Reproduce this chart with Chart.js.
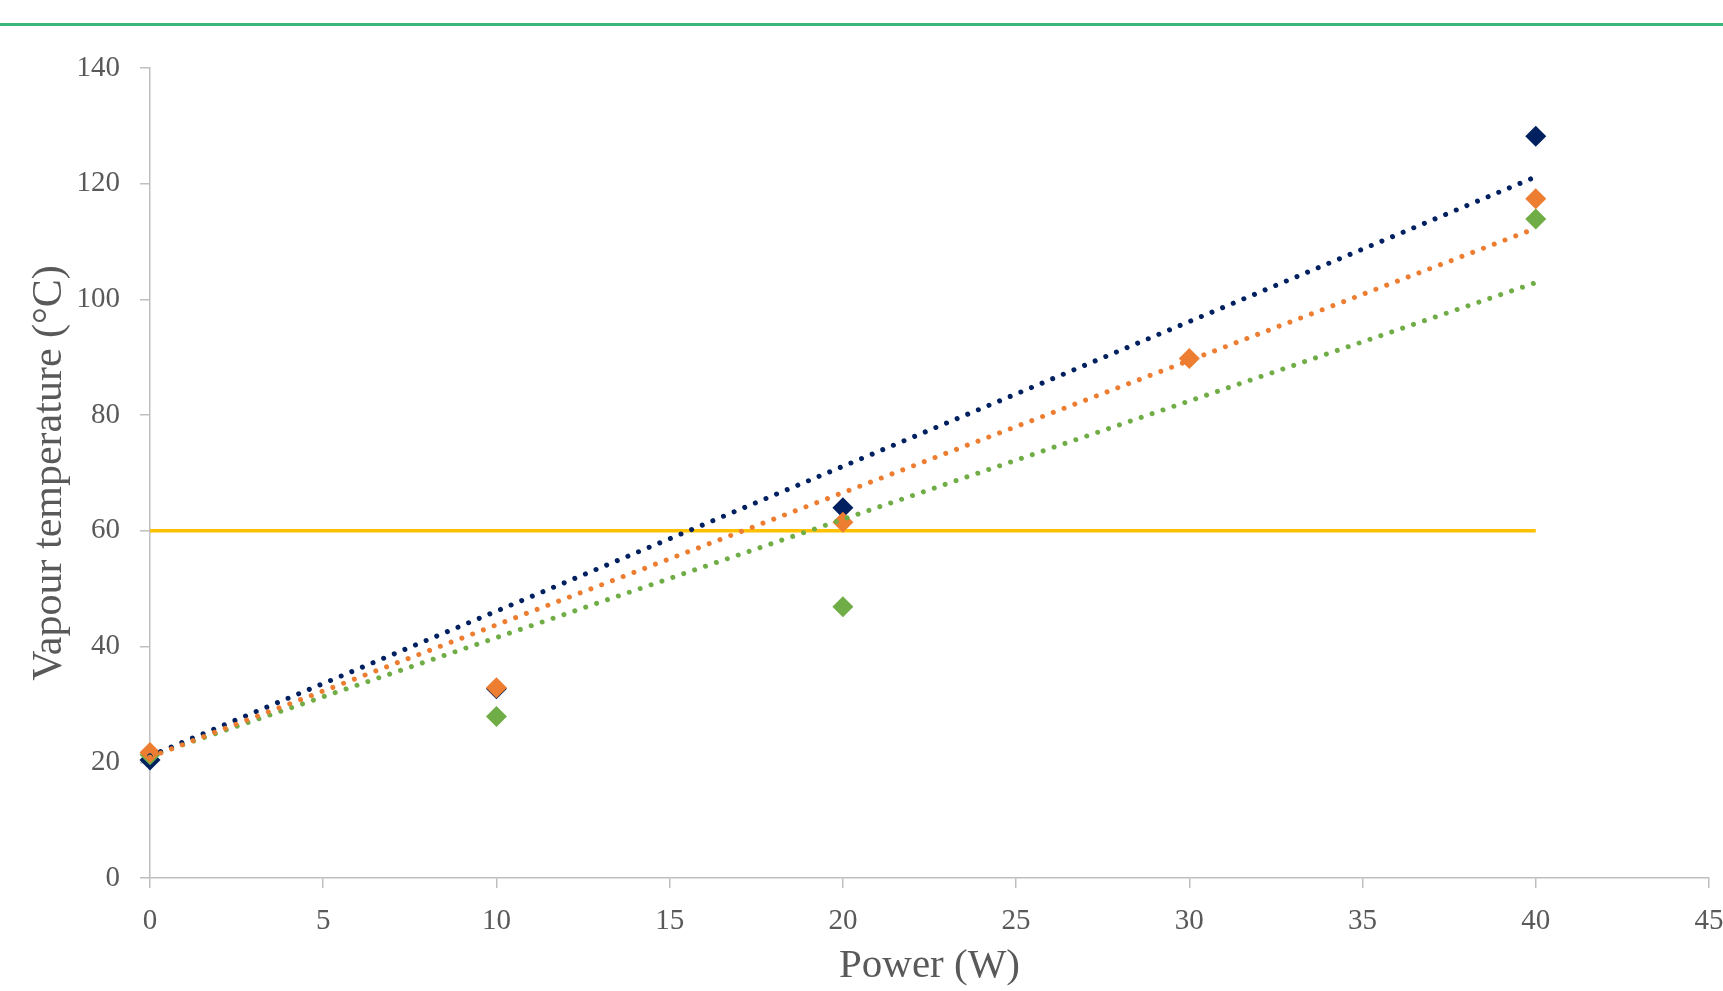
<!DOCTYPE html>
<html>
<head>
<meta charset="utf-8">
<script src="https://cdn.jsdelivr.net/npm/chart.js@4.4.1/dist/chart.umd.min.js"></script>
<style>
  html, body { margin: 0; padding: 0; background: #fff; }
  #wrap { position: relative; width: 1723px; height: 991px; }
  #topRule { position: absolute; left: 0; top: 23px; width: 1723px; height: 3px; background: #3bb77c; }
</style>
</head>
<body>
<div id="wrap">
  <div id="topRule"></div>
  <canvas id="vapour-chart"></canvas>
</div>
<script>
const powerW = [0, 10, 20, 30, 40];
const navyTemps = [20.4, 32.7, 64.0, null, 128.2];
const orangeTemps = [21.7, 32.9, 61.5, 89.8, 117.4];
const greenTemps = [21.3, 27.9, 46.9, null, 113.9];

// trendline end points (x = 0 and x = 40)
const trendX = [0, 40];
const navyTrend = [21.1, 121.2];
const orangeTrend = [20.9, 112.3];
const greenTrend = [21.1, 102.9];

// 60 °C reference line
const limitX = [0, 40];
const limitTemp = [60, 60];

const xTicks = [0, 5, 10, 15, 20, 25, 30, 35, 40, 45];
const yTicks = [0, 20, 40, 60, 80, 100, 120, 140];

const NAVY = '#002060';
const ORANGE = '#ed7d31';
const GREEN = '#70ad47';
const GOLD = '#ffc000';
const TEXT = '#595959';
const AXIS = '#bfbfbf';

function toPoints(xs, ys) {
    const pts = [];
    xs.forEach((x, i) => {
        if (ys[i] !== null) pts.push({ x: x, y: ys[i] });
    });
    return pts;
}

function trendSet(ys, color) {
    return {
        type: 'line',
        data: toPoints(trendX, ys),
        borderColor: color,
        borderWidth: 5,
        borderDash: [0.01, 11.5],
        borderCapStyle: 'round',
        pointRadius: 0,
        fill: false,
        clip: false
    };
}

function markerSet(ys, color) {
    return {
        type: 'scatter',
        data: toPoints(powerW, ys),
        backgroundColor: color,
        borderColor: color,
        borderWidth: 0,
        pointStyle: 'rectRot',
        pointRadius: 10.5,
        clip: false
    };
}

const config = {
    type: 'scatter',
    data: {
        datasets: [
            trendSet(orangeTrend, ORANGE),
            trendSet(navyTrend, NAVY),
            trendSet(greenTrend, GREEN),
            markerSet(orangeTemps, ORANGE),
            markerSet(greenTemps, GREEN),
            markerSet(navyTemps, NAVY),
            {
                type: 'line',
                data: toPoints(limitX, limitTemp),
                borderColor: GOLD,
                borderWidth: 3.5,
                pointRadius: 0,
                fill: false,
                clip: false
            }
        ]
    },
    options: {
        responsive: true,
        maintainAspectRatio: false,
        animation: false,
        layout: { padding: { top: 68, right: 14, bottom: 0, left: 0 } },
        plugins: { legend: { display: false }, tooltip: { enabled: false } },
        scales: {
            x: {
                type: 'linear',
                min: 0,
                max: 45,
                afterBuildTicks: (axis) => { axis.ticks = xTicks.map(v => ({ value: v })); },
                afterFit: (axis) => {
                    axis.height = 113;
                    axis.paddingRight = 0;
                    axis.paddingLeft = 0;
                },
                grid: { drawOnChartArea: false, drawTicks: true, tickLength: 10, color: AXIS, lineWidth: 1.5 },
                border: { color: AXIS, width: 1.5 },
                ticks: { color: TEXT, padding: 16, maxRotation: 0, font: { family: 'Liberation Serif', size: 29 } },
                title: {
                    display: true,
                    text: 'Power (W)',
                    color: TEXT,
                    padding: { top: 0, bottom: 0 },
                    font: { family: 'Liberation Serif', size: 41 }
                }
            },
            y: {
                type: 'linear',
                min: 0,
                max: 140,
                afterBuildTicks: (axis) => { axis.ticks = yTicks.map(v => ({ value: v })); },
                afterFit: (axis) => { axis.width = 150; },
                grid: { drawOnChartArea: false, drawTicks: true, tickLength: 10, color: AXIS, lineWidth: 1.5 },
                border: { color: AXIS, width: 1.5 },
                ticks: { color: TEXT, padding: 20, font: { family: 'Liberation Serif', size: 29 } },
                title: {
                    display: true,
                    text: 'Vapour temperature (°C)',
                    color: TEXT,
                    padding: { top: 25, bottom: 0 },
                    font: { family: 'Liberation Serif', size: 42 }
                }
            }
        }
    }
};

const ctx = document.getElementById('vapour-chart').getContext('2d');
const vapourChart = new Chart(ctx, config);
</script>
</body>
</html>
